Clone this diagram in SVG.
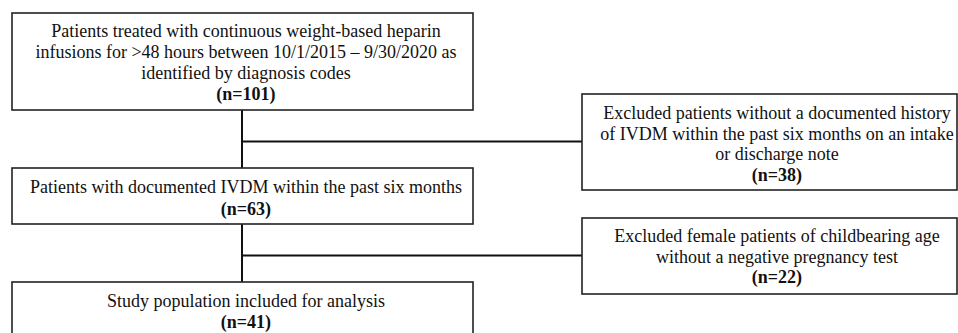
<svg xmlns="http://www.w3.org/2000/svg" width="958" height="333" viewBox="0 0 958 333">
<style>
.box{fill:#fff;stroke:#222;stroke-width:1.6}
.ln{stroke:#111;stroke-width:2;fill:none}
text{font-family:"Liberation Serif","Times New Roman",serif;font-size:18px;fill:#111;text-anchor:middle}
.b{font-weight:bold}
</style>
<rect width="958" height="333" fill="#fff"/>
<g id="connectors">
<line class="ln" x1="242" y1="110" x2="242" y2="282"/>
<line class="ln" x1="242" y1="141.5" x2="582" y2="141.5"/>
<line class="ln" x1="242" y1="255.5" x2="582" y2="255.5"/>
</g>
<g id="n1">
<rect class="box" x="12" y="13" width="461" height="97"/>
<text x="246" y="37">Patients treated with continuous weight-based heparin</text>
<text x="246" y="58">infusions for &gt;48 hours between 10/1/2015 – 9/30/2020 as</text>
<text x="246" y="79">identified by diagnosis codes</text>
<text class="b" x="246" y="100">(n=101)</text>
</g>
<g id="n2">
<rect class="box" x="12" y="168" width="461" height="56"/>
<text x="246" y="193">Patients with documented IVDM within the past six months</text>
<text class="b" x="246" y="215">(n=63)</text>
</g>
<g id="n3">
<rect class="box" x="12" y="282" width="461" height="60"/>
<text x="246" y="307">Study population included for analysis</text>
<text class="b" x="246" y="328">(n=41)</text>
</g>
<g id="e1">
<rect class="box" x="582" y="94" width="375" height="96"/>
<text x="777" y="119">Excluded patients without a documented history</text>
<text x="777" y="140">of IVDM within the past six months on an intake</text>
<text x="777" y="160">or discharge note</text>
<text class="b" x="777" y="181">(n=38)</text>
</g>
<g id="e2">
<rect class="box" x="582" y="218" width="375" height="76"/>
<text x="777" y="242">Excluded female patients of childbearing age</text>
<text x="777" y="263">without a negative pregnancy test</text>
<text class="b" x="777" y="283">(n=22)</text>
</g>
</svg>
